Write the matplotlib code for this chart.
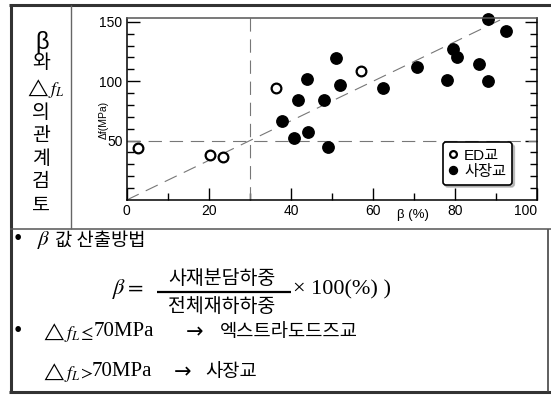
import matplotlib
matplotlib.use("Agg")
from matplotlib import pyplot as plt
from matplotlib.lines import Line2D

plt.rcParams['font.family'] = ['Liberation Sans', 'Noto Sans CJK KR', 'DejaVu Sans']
plt.rcParams['mathtext.fontset'] = 'stix'

# data
ed_beta = [2.8, 20.3, 23.4, 36.3, 57.0]
ed_df = [43.5, 37.9, 36.2, 94.2, 109.0]

cs_beta = [88.1, 92.4, 79.5, 80.4, 51.0, 70.8, 85.8, 43.8, 77.9, 88.1,
           51.9, 62.5, 41.6, 48.1, 37.9, 40.7, 44.2, 49.1]
cs_df = [152.5, 141.9, 127.1, 120.1, 119.3, 112.3, 114.5, 102.0, 101.4, 100.3,
         97.0, 94.5, 84.2, 84.2, 66.9, 52.4, 56.9, 44.9]

beta_cut = 30
df_cut = 50
slope = df_cut / beta_cut

x_ticks = [0, 20, 40, 60, 80, 100]
y_ticks = [50, 100, 150]
legend_labels = ["ED교", "사장교"]

side_chars = ["β", "와", r"$\triangle f_L$", "의", "관", "계", "검", "토"]
side_y = [42, 62, 88, 113, 136, 159, 182, 205]

W, H = 551, 395


def fx(x):
    return x / W


def fy(y):
    return 1 - y / H


fig = plt.figure(figsize=(W / 100, H / 100), dpi=100)
fig.patch.set_facecolor("white")


def fline(x0, y0, x1, y1, color="#333333", lw=2.2):
    fig.add_artist(Line2D([fx(x0), fx(x1)], [fy(y0), fy(y1)],
                          transform=fig.transFigure, color=color, lw=lw,
                          solid_capstyle="butt"))


# frame
fline(9, 4.5, 551, 4.5)
fline(10.5, 4, 10.5, 393)
fline(9, 392, 551, 392)
fline(548, 229, 548, 392, color="#444444", lw=1.2)
fline(10, 229, 551, 229, color="#555555", lw=1.1)
fline(71, 5, 71, 229, color="#666666", lw=1.0)

# scatter plot
ax = fig.add_axes([fx(126.7), fy(200), (537.3 - 126.7) / W, (200 - 18.3) / H])
ax.set_xlim(0, 100)
ax.set_ylim(0, 153)

ax.axvline(beta_cut, color="#777777", lw=0.8, ls=(0, (12, 7)))
ax.axhline(df_cut, color="#777777", lw=0.8, ls=(0, (12, 7)))
ax.plot([0, 100], [0, 100 * slope], color="#777777", lw=0.8, ls=(0, (12, 7)))

ax.plot(ed_beta, ed_df, 'o', mfc="white", mec="black", mew=1.6, ms=7,
        label=legend_labels[0], clip_on=False)
ax.plot(cs_beta, cs_df, 'o', color="black", ms=8.2,
        label=legend_labels[1], clip_on=False)

ax.set_xticks(x_ticks)
ax.set_xticks(range(10, 100, 20), minor=True)
ax.set_yticks(y_ticks)
ax.set_yticks([v for v in range(10, 150, 10) if v % 50], minor=True)
ax.tick_params(which="both", direction="in", left=True, right=True,
               bottom=True, top=False, width=1.0, labelsize=10)
ax.tick_params(which="major", length=9, pad=3)
ax.tick_params(which="minor", length=5)
for s in ax.spines.values():
    s.set_linewidth(1.1)
ax.spines["top"].set_color("#555555")
ax.get_xticklabels()[-1].set_horizontalalignment("right")

leg = ax.legend(loc="lower right", bbox_to_anchor=(0.939, 0.083),
                borderaxespad=0, fontsize=11, frameon=True, fancybox=True,
                edgecolor="black", markerscale=0.7, handlelength=0.6,
                handletextpad=0.4, borderpad=0.4, labelspacing=0.15,
                shadow={"color": "0.55", "ox": 1.5, "oy": -1.5})
leg.get_frame().set_linewidth(1.2)
leg.get_frame().set_alpha(1)

fig.text(fx(413), fy(215), "β (%)", fontsize=9.5, ha="center", va="center")
fig.text(fx(104), fy(120), "Δf(MPa)", fontsize=7.5, rotation=90,
         ha="center", va="center")

# left cell
for ch, yy in zip(side_chars, side_y):
    if ch == "β":
        fig.text(fx(42), fy(yy), ch, fontsize=17, ha="center", va="center",
                 family=["Liberation Sans"])
    elif ch.startswith("$"):
        fig.text(fx(45), fy(yy), ch, fontsize=13, ha="center", va="center")
    else:
        fig.text(fx(41), fy(yy), ch, fontsize=14, ha="center", va="center",
                 family=["Noto Sans CJK KR"])

# bottom notes
serif = ["Liberation Serif", "DejaVu Serif"]
kr = ["Noto Sans CJK KR"]

fig.text(fx(18), fy(239), "•", fontsize=17, ha="center", va="center", family=serif)
fig.text(fx(37), fy(240), r"$\beta$", fontsize=15, ha="left", va="center")
fig.text(fx(55), fy(240), "값 산출방법", fontsize=13.5, ha="left", va="center", family=kr)

fig.text(fx(112), fy(289), r"$\beta=$", fontsize=16, ha="left", va="center")
fig.text(fx(222), fy(279), "사재분담하중", fontsize=14, ha="center", va="center", family=kr)
fig.text(fx(222), fy(306), "전체재하하중", fontsize=14, ha="center", va="center", family=kr)
fline(157, 292, 291, 292, color="black", lw=1.6)
fig.text(fx(293), fy(290), "× 100(%) )", fontsize=16, ha="left", va="center", family=serif)

fig.text(fx(18), fy(331), "•", fontsize=17, ha="center", va="center", family=serif)
fig.text(fx(41), fy(332), r"$\triangle f_L\!\leq$", fontsize=13, ha="left", va="center")
fig.text(fx(94), fy(332), "70MPa", fontsize=15, ha="left", va="center", family=serif)
fig.text(fx(186), fy(332), "→", fontsize=15, ha="left", va="center", family=["DejaVu Sans"])
fig.text(fx(220), fy(332), "엑스트라도드즈교", fontsize=13.5, ha="left", va="center", family=kr)

fig.text(fx(41), fy(372), r"$\triangle f_L\!>$", fontsize=13, ha="left", va="center")
fig.text(fx(92), fy(372), "70MPa", fontsize=15, ha="left", va="center", family=serif)
fig.text(fx(174), fy(372), "→", fontsize=15, ha="left", va="center", family=["DejaVu Sans"])
fig.text(fx(205), fy(372), "사장교", fontsize=13.5, ha="left", va="center", family=kr)

fig.savefig("out.png", dpi=100)
